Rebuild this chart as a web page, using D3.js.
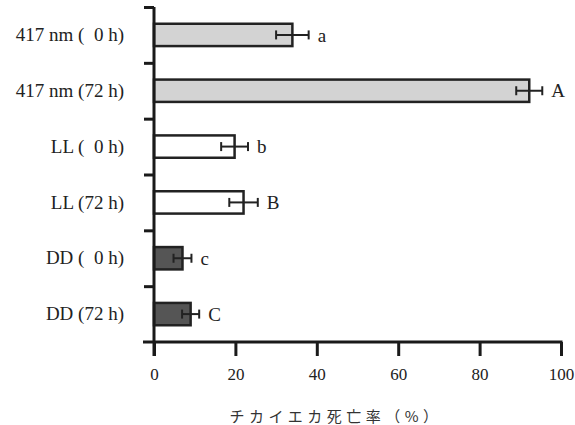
<!DOCTYPE html>
<html>
<head>
<meta charset="utf-8">
<script src="https://cdn.jsdelivr.net/npm/d3@7"></script>
<style>
  body { margin: 0; background: white; }
  .lbl { font-family: 'Liberation Serif', 'DejaVu Serif', serif; font-size: 19px; fill: #222; }
  .tick-x { font-family: 'Liberation Serif', 'DejaVu Serif', serif; font-size: 17px; fill: #222; }
</style>
</head>
<body>
<div id="chart"></div>
<script>
// bar data, top to bottom
const categories = ['417 nm (\u20070 h)', '417 nm (72 h)', 'LL (\u20070 h)', 'LL (72 h)', 'DD (\u20070 h)', 'DD (72 h)'];
const groups = ['blue', 'blue', 'light', 'light', 'dark', 'dark'];
const mortality = [34, 92.2, 19.8, 22, 7, 9];
const errors = [4, 3.2, 3.3, 3.5, 2.2, 2.1];
const letters = ['a', 'A', 'b', 'B', 'c', 'C'];
const xTicks = [0, 20, 40, 60, 80, 100];
const xLabel = 'チカイエカ死亡率（%）';

const width = 575;
const height = 425;

const fillOf = { blue: '#d3d3d3', light: '#ffffff', dark: '#555555' };

const svg = d3.select('#chart')
    .append('svg')
    .attr('width', width)
    .attr('height', height)
    .style('background', 'white');

const xScale = d3.scaleLinear()
    .domain([0, 100])
    .range([154, 561]);

const yScale = d3.scaleBand()
    .domain(categories)
    .range([7, 342])
    .paddingInner(0.6)
    .paddingOuter(0.3);

// boundaries between categories, for the short ticks on the y axis
const yEdge = d3.scaleLinear()
    .domain([0, categories.length])
    .range([7, 342]);

// bars
svg.selectAll('.bar')
    .data(mortality)
    .enter()
    .append('rect')
    .attr('class', 'bar')
    .attr('x', xScale(0))
    .attr('y', (d, i) => yScale(categories[i]))
    .attr('width', d => xScale(d) - xScale(0))
    .attr('height', yScale.bandwidth())
    .attr('fill', (d, i) => fillOf[groups[i]])
    .attr('stroke', '#222')
    .attr('stroke-width', 2.5);

// error bars
const err = svg.selectAll('.err')
    .data(mortality)
    .enter()
    .append('g')
    .attr('class', 'err')
    .attr('stroke', '#222')
    .attr('stroke-width', 2);

err.append('line')
    .attr('x1', (d, i) => xScale(d - errors[i]))
    .attr('x2', (d, i) => xScale(d + errors[i]))
    .attr('y1', (d, i) => yScale(categories[i]) + yScale.bandwidth() / 2)
    .attr('y2', (d, i) => yScale(categories[i]) + yScale.bandwidth() / 2);

[-1, 1].forEach(s => {
  err.append('line')
      .attr('x1', (d, i) => xScale(d + s * errors[i]))
      .attr('x2', (d, i) => xScale(d + s * errors[i]))
      .attr('y1', (d, i) => yScale(categories[i]) + yScale.bandwidth() / 2 - 4.5)
      .attr('y2', (d, i) => yScale(categories[i]) + yScale.bandwidth() / 2 + 4.5);
});

// significance letters
svg.selectAll('.letter')
    .data(mortality)
    .enter()
    .append('text')
    .attr('class', 'lbl')
    .attr('x', (d, i) => xScale(d + errors[i]) + 9)
    .attr('y', (d, i) => yScale(categories[i]) + yScale.bandwidth() / 2)
    .attr('dy', '0.35em')
    .text((d, i) => letters[i]);

// y axis: category labels
svg.append('g')
    .attr('transform', 'translate(' + xScale(0) + ',0)')
    .call(d3.axisLeft(yScale).tickSize(0).tickPadding(30))
    .call(g => g.select('.domain').remove())
    .selectAll('text')
    .attr('class', 'lbl')
    .attr('font-family', null)
    .attr('font-size', null);

// y axis: line and boundary ticks
svg.append('g')
    .attr('transform', 'translate(' + xScale(0) + ',0)')
    .call(d3.axisLeft(yEdge).tickValues(d3.range(categories.length)).tickSize(10).tickSizeOuter(0).tickFormat(''))
    .call(g => g.select('.domain').remove())
    .selectAll('line')
    .attr('stroke', '#1a1a1a')
    .attr('stroke-width', 3);

svg.append('line')
    .attr('x1', xScale(0)).attr('x2', xScale(0))
    .attr('y1', yEdge(0)).attr('y2', 356)
    .attr('stroke', '#1a1a1a')
    .attr('stroke-width', 3);

// x axis
const xAxis = svg.append('g')
    .attr('transform', 'translate(0,342)')
    .call(d3.axisBottom(xScale).tickValues(xTicks).tickSize(14).tickSizeOuter(0).tickPadding(12));

xAxis.select('.domain').remove();
xAxis.selectAll('line')
    .attr('stroke', '#1a1a1a')
    .attr('stroke-width', 3);
xAxis.selectAll('text')
    .attr('class', 'tick-x')
    .attr('font-family', null)
    .attr('font-size', null);

svg.append('line')
    .attr('x1', 143).attr('x2', xScale(100) + 1.5)
    .attr('y1', 342).attr('y2', 342)
    .attr('stroke', '#1a1a1a')
    .attr('stroke-width', 3);

// x axis label
svg.append('text')
    .attr('x', 336)
    .attr('y', 422)
    .attr('text-anchor', 'middle')
    .style('font-family', "'Noto Sans CJK JP', sans-serif")
    .style('font-size', '15px')
    .style('letter-spacing', '4.5px')
    .style('fill', '#333')
    .text(xLabel);
</script>
</body>
</html>
